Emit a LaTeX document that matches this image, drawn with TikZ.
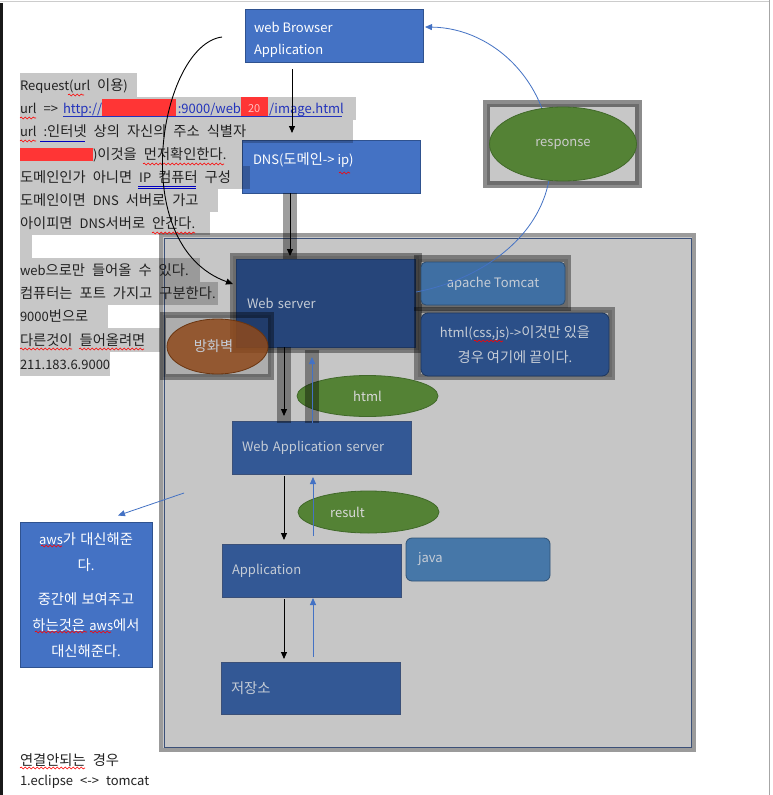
\documentclass[tikz,border=0pt]{standalone}
\usepackage{fontspec}
\setmainfont{Noto Sans CJK KR}
\newfontfamily\hangulfont[Scale=1.1]{Noto Sans CJK KR}
\XeTeXinterchartokenstate=1
\newXeTeXintercharclass\hgcls
\newcount\hgc
\hgc="AC00
\loop \XeTeXcharclass\hgc=\hgcls \ifnum\hgc<"D7A3 \advance\hgc by 1 \repeat
\newcount\icc
\icc=0
\loop \ifnum\icc<\hgcls
  \XeTeXinterchartoks\icc\hgcls={\begingroup\hangulfont}%
  \XeTeXinterchartoks\hgcls\icc={\endgroup}%
  \advance\icc by 1
\repeat
\XeTeXinterchartoks 4095 \hgcls = {\begingroup\hangulfont}
\XeTeXinterchartoks \hgcls 4095 = {\endgroup}
\usetikzlibrary{arrows.meta,decorations.pathmorphing,shapes.geometric}
\definecolor{bblue}{HTML}{4472C4}
\definecolor{bbord}{HTML}{2F528F}
\definecolor{dkbox}{HTML}{26457A}
\definecolor{midbox}{HTML}{335895}
\definecolor{steel}{HTML}{3F6FA3}
\definecolor{javac}{HTML}{4677A8}
\definecolor{htmlc}{HTML}{2B4F88}
\definecolor{grn}{HTML}{548235}
\definecolor{grnb}{HTML}{41692A}
\definecolor{fwc}{HTML}{8F4A1C}
\definecolor{fwb}{HTML}{6B3510}
\definecolor{lighttx}{HTML}{C5CCD6}
\definecolor{contbg}{HTML}{C6C6C6}
\definecolor{contfr}{HTML}{9B9B9B}
\definecolor{contln}{HTML}{3B5078}
\definecolor{linkc}{HTML}{2233BB}
\definecolor{redbox}{HTML}{FF3535}
\definecolor{txtc}{HTML}{222222}
\newcommand{\fsz}{\fontsize{13}{16}\selectfont}
\newcommand{\bodyfsz}{\fontsize{13}{16}\selectfont\spaceskip=7pt\relax}
\begin{document}
\begin{tikzpicture}[x=1pt,y=-1pt,
  tx/.style={anchor=base west, inner sep=0pt, outer sep=0pt, text=txtc, font=\bodyfsz},
  lbl/.style={anchor=base west, inner sep=0pt, outer sep=0pt, font=\fsz},
  hl/.style={fill=black, fill opacity=0.22},
  wavy/.style={draw=red, line width=0.6pt, decorate, decoration={snake, amplitude=1pt, segment length=4pt}},
  gul/.style={draw=blue!75!black, line width=0.6pt},
  box/.style={rectangle, draw=bbord, line width=0.8pt, inner sep=0pt, outer sep=0pt, font=\fsz},
  sbox/.style={box, draw=contln, text=lighttx, fill=midbox},
  frame/.style={draw=black, draw opacity=0.38, line width=6.5pt, fill=black, fill opacity=0.12},
  ell/.style={ellipse, inner sep=0pt, outer sep=0pt, line width=0.8pt, font=\fsz},
  blk/.style={draw=black, line width=0.9pt, -{Triangle[length=7pt,width=6pt]}},
  blu/.style={draw=bblue, line width=0.9pt, -{Triangle[length=7pt,width=6pt]}},
  bar/.style={fill=black, fill opacity=0.38}
]
\useasboundingbox (0,0) rectangle (773,795);
\fill[white] (0,0) rectangle (773,795);
% page edges
\fill[black!90] (0,3) rectangle (3.3,795);
\draw[black!20, line width=1.2pt] (0,1.2) -- (769,1.2);
\draw[black!35, line width=1pt] (769.5,0) -- (769.5,795);

% container
\fill[contfr] (159,233) rectangle (696,752);
\fill[contbg] (163,237) rectangle (691.5,747.5);
\draw[contln, line width=1pt] (164,238) rectangle (691,747);

% top boxes
\node[box, fill=bblue, minimum width=178pt, minimum height=53pt] (browser) at (334,35.5) {};
\node[lbl, text=white] (brl1) at (254,32) {web Browser};
\node[lbl, text=white] (brl2) at (254,54) {Application};
\node[box, fill=bblue, minimum width=178pt, minimum height=53pt] (dns) at (331,166.5) {};
\node[lbl, text=white] (dnslbl) at (253,164.5) {DNS(도메인-> ip)};

% text highlights
\foreach \t/\b/\r in {73/97/137, 97/120/356, 120/143/353, 143/166/243, 166/189/250, 189/212/218, 212/235/210, 235/258/32, 258/282/200, 282/305/218, 305/328/108, 328/352/160, 352/376/110}
  \fill[hl] (20,\t) rectangle (\r,\b);

% red redactions
\fill[redbox] (102,99) rectangle (176,116);
\fill[redbox] (241,97) rectangle (268,117);
\node[lbl, text=red!25, font=\fontsize{11}{13}\selectfont] (r2) at (248,112) {20};
\fill[redbox] (20,148) rectangle (93,161);

% left texts
\node[tx] (l1) at (20,90.5) {Request(url 이용)};
\node[tx] (l2a) at (20,113.5) {url =>};
\node[tx, text=linkc] (l2b) at (63,113.5) {http://};
\node[tx, text=linkc, anchor=base east] (l2c) at (241,113.5) {:9000/web};
\node[tx, text=linkc] (l2d) at (269,113.5) {/image.html};
\draw[linkc, line width=0.7pt] (63,116) -- (342,116);
\node[tx] (l3) at (20,136.5) {url :인터넷 상의 자신의 주소 식별자};
\node[tx] (l4) at (93,159.5) {)이것을 먼저확인한다.};
\node[tx] (l5) at (20,182.5) {도메인인가 아니면 IP 컴퓨터 구성};
\node[tx] (l6) at (20,205.5) {도메인이면 DNS 서버로 가고};
\node[tx] (l7) at (20,228.5) {아이피면 DNS서버로 안간다.};
\node[tx] (l9) at (20,275.5) {web으로만 들어올 수 있다.};
\node[tx] (l10) at (20,298.5) {컴퓨터는 포트 가지고 구분한다.};
\node[tx] (l11) at (20,321.5) {9000번으로};
\node[tx] (l12) at (20,345) {다른것이 들어올려면};
\node[tx] (l13) at (20,369) {211.183.6.9000};

% spelling marks
\draw[wavy] (68,95) -- (84,95);
\draw[wavy] (20,118) -- (36,118);
\draw[wavy] (20,141) -- (36,141);
\draw[gul] (40,141) -- (85,141);
\draw[wavy] (143,164) -- (224,164);
\draw[gul] (138,186) -- (196,186);
\draw[gul] (138,188) -- (196,188);
\draw[wavy] (152,233) -- (195,233);
\draw[wavy] (20,349) -- (72,349);
\draw[wavy] (79,349) -- (144,349);
\draw[wavy] (339,173) -- (350,173);

% DNS -> web server bar
\fill[bar] (283,193) rectangle (297,263);

% web server
\draw[frame] (233,256) rectangle (418.5,350);
\node[sbox, fill=dkbox, draw=dkbox!80!black, minimum width=179pt, minimum height=88pt, text width=157pt, align=left] (ws) at (325.5,303) {Web server};

% tomcat
\draw[frame] (417.5,258.5) rectangle (567.5,307.5);
\node[box, rounded corners=5pt, fill=steel, draw=steel!70!black, text=lighttx, minimum width=144pt, minimum height=43pt] (tomcat) at (493,283.5) {apache Tomcat};

% html(css,js) box
\draw[frame] (417.5,310) rectangle (611.5,377);
\node[box, rounded corners=7pt, fill=htmlc, draw=htmlc!70!black, text=lighttx, minimum width=188pt, minimum height=63pt, align=center, font=\fontsize{13}{25}\selectfont] (htmlbox) at (515,344.5) {html(css,js)->이것만 있을\\경우 여기에 끝이다.};
\draw[wavy] (474,341) -- (503,341);

% firewall
\draw[frame] (163,315) rectangle (271,377);
\node[ell, fill=fwc, fill opacity=0.85, draw=fwb, text=lighttx, text opacity=1, minimum width=101pt, minimum height=55pt] (fw) at (217.5,346.5) {\hspace{-8pt}방화벽};

% html ellipse
\node[ell, fill=grn, draw=grnb, text=white!85!black, minimum width=141pt, minimum height=41pt] (htmlell) at (367.5,396) {html};

% WAS
\node[sbox, minimum width=179pt, minimum height=53pt, text width=159pt, align=left] (was) at (321.5,447.5) {\raisebox{-2pt}{Web Application server}};

% bars between WS and WAS
\fill[bar] (277,347) rectangle (291,423);
\fill[bar] (305,350) rectangle (319,423);
\coordinate (xa) at (284,0);
\coordinate (xb) at (312,0);
\coordinate (xc) at (313,0);
\draw[blk] (ws.south -| xa) -- ([yshift=5pt]was.north -| xa);
\draw[blu] ([yshift=-2pt]was.north -| xb) -- ([yshift=-10pt]ws.south -| xb);

% result ellipse
\node[ell, fill=grn, draw=grnb, text=white!85!black, minimum width=141pt, minimum height=42pt] (resell) at (368.5,512) {\hspace{-42pt}result};

% application, java, storage
\node[sbox, minimum width=179pt, minimum height=53pt, text width=159pt, align=left] (app) at (311.5,570.5) {\raisebox{-2pt}{Application}};
\node[box, rounded corners=6pt, fill=javac, draw=javac!70!black, text=lighttx, minimum width=144pt, minimum height=43pt, text width=120pt, align=left] (java) at (478,559.5) {\raisebox{2pt}{java}};
\node[sbox, minimum width=179pt, minimum height=52pt, text width=159pt, align=left] (stor) at (310.5,688) {저장소};

\draw[blk] ([yshift=-2pt]was.south -| xa) -- ([yshift=4pt]app.north -| xa);
\draw[blu] ([yshift=8pt]app.north -| xc) -- ([yshift=-3pt]was.south -| xc);
\draw[blk] ([yshift=-2pt]app.south -| xa) -- ([yshift=3pt]stor.north -| xa);
\draw[blu] ([yshift=5pt]stor.north -| xc) -- ([yshift=-1pt]app.south -| xc);

% aws box
\node[box, fill=bblue, text=white, minimum width=132pt, minimum height=145pt, text width=124pt, align=center, font=\fontsize{13}{26}\selectfont] (aws) at (86,595) {aws가 대신해준\\다.\\[8pt]중간에 보여주고\\하는것은 aws에서\\대신해준다.};
\draw[wavy] (41,546) -- (62,546);
\draw[wavy] (35,632) -- (87,632);
\draw[wavy] (90,632) -- (111,632);
\coordinate (awsfrom) at (184,493);
\draw[blu, line width=0.8pt] (awsfrom) -- ([xshift=32pt,yshift=7pt]aws.north);

% response
\draw[draw=black, draw opacity=0.45, line width=7pt, fill=black, fill opacity=0.22] (486.5,103.5) rectangle (638.5,184.5);
\coordinate (rs) at (416,292);
\coordinate (rm) at (551,160);
\coordinate (re) at (425,27);
\draw[blu, line width=0.8pt] (rs) .. controls (480,280) and (550,235) .. (rm) .. controls (552,85) and (495,28) .. (re);
\node[ell, fill=grn, draw=grnb, text=white!80!black, minimum width=147pt, minimum height=74pt] (resp) at (563,144) {response};

% browser request curve
\coordinate (bs) at (222,37);
\coordinate (wsin) at (233,284);
\draw[blk] (bs) .. controls (160,45) and (125,245) .. (wsin);
\coordinate (xd) at (292,0);
\coordinate (xe) at (290,0);
\draw[blk] ([yshift=-7pt]browser.south -| xd) -- ([yshift=7pt]dns.north -| xd);
\draw[blk] (dns.south -| xe) -- ([yshift=3pt]ws.north -| xe);

% bottom texts
\node[tx] (b1) at (20,765) {연결안되는 경우};
\node[tx] (b2) at (20,785) {1.eclipse <-> tomcat};
\draw[wavy] (20,768) -- (85,768);
\end{tikzpicture}
\end{document}
